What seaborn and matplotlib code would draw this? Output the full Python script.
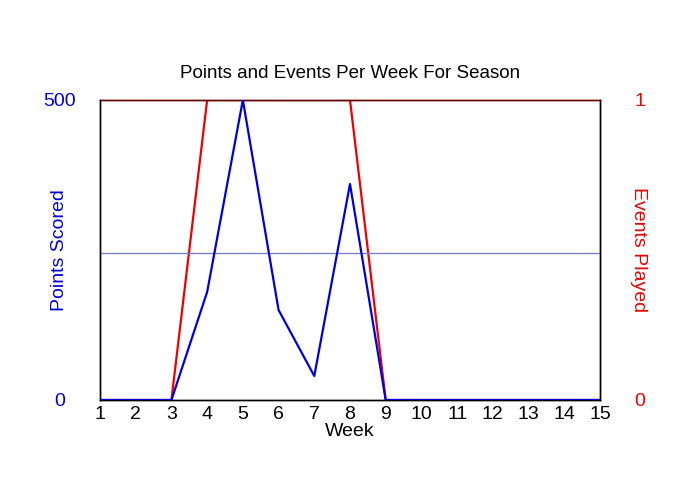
import matplotlib
matplotlib.use("Agg")
import matplotlib.pyplot as plt
import seaborn as sns
import pandas as pd

weeks = list(range(1, 16))
points = [0, 0, 0, 180, 500, 150, 40, 360, 0, 0, 0, 0, 0, 0, 0]
events = [0, 0, 0, 1, 1, 1, 1, 1, 0, 0, 0, 0, 0, 0, 0]

sns.set_style("white")
plt.rcParams['font.family'] = ['Liberation Sans', 'DejaVu Sans']
plt.rcParams['text.color'] = 'black'
plt.rcParams['axes.labelcolor'] = 'black'
plt.rcParams['xtick.color'] = 'black'

df = pd.DataFrame({"Week": weeks, "Points": points, "Events": events})

fig = plt.figure(figsize=(7, 5), dpi=100)
ax = fig.add_axes([100/700, 0.2, 500/700, 0.6])
ax2 = ax.twinx()

ax.axhline(245, color="#7777cc", lw=0.9, zorder=1)
sns.lineplot(data=df, x="Week", y="Points", ax=ax, color="#0000dd", lw=1.6, zorder=3)
sns.lineplot(data=df, x="Week", y="Events", ax=ax2, color="#ee0000", lw=1.6, zorder=2)

ax.set_xlim(1, 15)
ax.set_ylim(0, 500)
ax2.set_ylim(0, 1)
ax.set_xticks(weeks)
ax.set_xticklabels([str(w) for w in weeks], fontsize=14, color="black")
ax.set_yticks([0, 500])
ax.set_yticklabels(["0", "500"], fontsize=14, color="#0000dd", ha="center")
ax2.set_yticks([0, 1])
ax2.set_yticklabels(["0", "1"], fontsize=14, color="#ee0000", ha="center")
ax.tick_params(axis="x", length=0, pad=4)
ax.tick_params(axis="y", length=0, pad=28.8)
ax2.tick_params(axis="y", length=0, pad=28.8)

ax.set_xlabel("Week", fontsize=14, labelpad=0, color="black")
ax.set_ylabel("Points Scored", fontsize=14, color="#0000dd")
ax2.set_ylabel("Events Played", fontsize=14, color="#ee0000", rotation=-90)
ax.yaxis.label.set_va("center")
ax2.yaxis.label.set_va("center")
ax.yaxis.set_label_coords(-0.082, 0.5)
ax2.yaxis.set_label_coords(1.076, 0.5)
ax.set_title("Points and Events Per Week For Season", fontsize=13.5, pad=16, color="black")

for a in (ax, ax2):
    for s in a.spines.values():
        s.set_color("black")
        s.set_linewidth(1)
    a.spines["top"].set_color("#660000")
ax.patch.set_visible(False)
ax2.set_zorder(0)
ax.set_zorder(1)

fig.savefig("out.png", dpi=100)
